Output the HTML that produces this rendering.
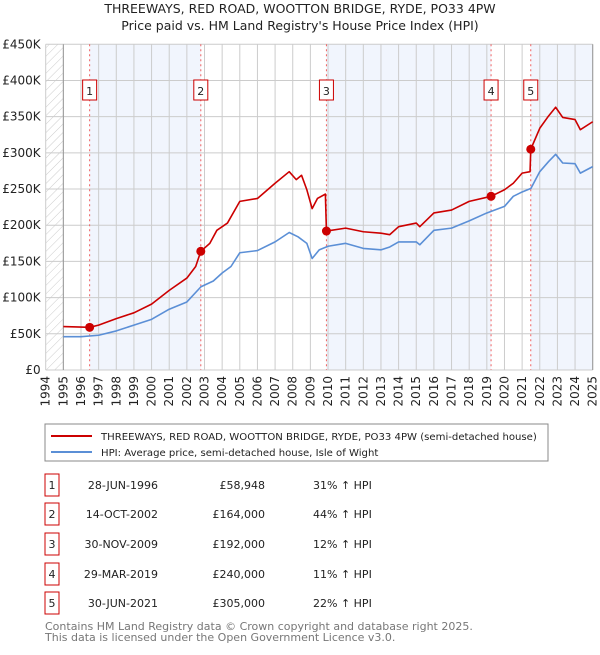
<!DOCTYPE html>
<html><head><meta charset="utf-8"><style>
body{margin:0;background:#fff;font-family:"Liberation Sans","DejaVu Sans",sans-serif;}
svg text{font-family:"DejaVu Sans","Liberation Sans",sans-serif;}
</style></head><body>
<svg id="c" width="600" height="650" xmlns="http://www.w3.org/2000/svg">
<defs><pattern id="h" width="6" height="6" patternUnits="userSpaceOnUse" patternTransform="rotate(45)"><line x1="0" y1="0" x2="0" y2="6" stroke="#ccc" stroke-width="1"/></pattern></defs>
<text x="300" y="13" text-anchor="middle" font-size="12.5" fill="#222">THREEWAYS, RED ROAD, WOOTTON BRIDGE, RYDE, PO33 4PW</text>
<text x="300" y="30" text-anchor="middle" font-size="12.5" fill="#222">Price paid vs. HM Land Registry's House Price Index (HPI)</text>
<g id="plot"></g>
<rect x="45" y="424" width="503" height="37" fill="#fff" stroke="#888"/>
<line x1="51" y1="436" x2="92" y2="436" stroke="#cc0000" stroke-width="2"/>
<text x="101" y="440" font-size="10.1" fill="#222">THREEWAYS, RED ROAD, WOOTTON BRIDGE, RYDE, PO33 4PW (semi-detached house)</text>
<line x1="51" y1="452" x2="92" y2="452" stroke="#5b8fd6" stroke-width="2"/>
<text x="101" y="456" font-size="10.1" fill="#222">HPI: Average price, semi-detached house, Isle of Wight</text>
<g id="table"></g>
<text x="45" y="630" font-size="11" fill="#777">Contains HM Land Registry data © Crown copyright and database right 2025.</text>
<text x="45" y="641" font-size="11" fill="#777">This data is licensed under the Open Government Licence v3.0.</text>
</svg>
<script>
const yTicks=[0,50,100,150,200,250,300,350,400,450];
const yTickLabels=["£0","£50K","£100K","£150K","£200K","£250K","£300K","£350K","£400K","£450K"];
const years=[1994,1995,1996,1997,1998,1999,2000,2001,2002,2003,2004,2005,2006,2007,2008,2009,2010,2011,2012,2013,2014,2015,2016,2017,2018,2019,2020,2021,2022,2023,2024,2025];
const hpiT=[1995,1996,1997,1998,1999,2000,2001,2002,2002.8,2003.5,2004,2004.5,2005,2006,2007,2007.8,2008.3,2008.8,2009.1,2009.5,2010,2011,2012,2013,2013.5,2014,2015,2015.2,2016,2017,2018,2019,2020,2020.5,2021,2021.5,2022,2022.5,2022.9,2023.3,2024,2024.3,2025];
const hpiV=[46,46,48,54,62,70,84,94,115,123,134,143,162,165,177,190,184,175,154,166,171,175,168,166,170,177,177,173,193,196,206,217,226,240,246,251,274,288,298,286,285,272,281];
const redT=[1995,1996.49,1997,1998,1999,2000,2001,2002,2002.5,2002.79,2003.3,2003.7,2004.3,2005,2006,2007,2007.8,2008.2,2008.5,2008.8,2009.1,2009.4,2009.85,2009.91,2011,2012,2013,2013.5,2014,2015,2015.2,2016,2017,2018,2019.24,2020,2020.5,2021,2021.45,2021.49,2022,2022.5,2022.9,2023.3,2024,2024.3,2025];
const redV=[60,59,62,71,79,91,110,127,143,164,175,193,203,233,237,258,274,263,269,249,223,237,243,192,196,191,189,187,198,203,198,217,221,233,240,249,258,272,274,305,334,351,363,349,346,332,343];
const saleT=[1996.49,2002.79,2009.91,2019.24,2021.49];
const saleV=[58.948,164,192,240,305];
const saleLabels=["1","2","3","4","5"];
const saleDates=["28-JUN-1996","14-OCT-2002","30-NOV-2009","29-MAR-2019","30-JUN-2021"];
const salePrices=["£58,948","£164,000","£192,000","£240,000","£305,000"];
const saleDiffs=["31% ↑ HPI","44% ↑ HPI","12% ↑ HPI","11% ↑ HPI","22% ↑ HPI"];

const NS="http://www.w3.org/2000/svg";
const X0=45.7,X1=592.7,Y0=370,Y1=44.3;
const xs=t=>X0+(t-1994)/(2025-1994)*(X1-X0);
const ys=v=>Y0-v/450*(Y0-Y1);
function mk(tag,attrs,parent){const e=document.createElementNS(NS,tag);for(const k in attrs)e.setAttribute(k,attrs[k]);parent.appendChild(e);return e;}
const g=document.getElementById('plot');
const bands=[[saleT[0],saleT[1]],[saleT[2],saleT[3]],[saleT[4],2025]];
bands.forEach(b=>{const r=mk('rect',{x:xs(b[0]),y:Y1,width:xs(b[1])-xs(b[0]),height:Y0-Y1,fill:'#eef3fc',opacity:0.8},g);

});
const hr=mk('rect',{x:X0,y:Y1,width:xs(1995)-X0,height:Y0-Y1,fill:'url(#h)'},g);


yTicks.forEach((v,i)=>{const l=mk('line',{x1:X0,x2:X1,y1:ys(v),y2:ys(v),stroke:'#ccc'},g);


const t=mk('text',{x:X0-5,y:ys(v)+4,'text-anchor':'end','font-size':12,fill:'#222'},g);t.textContent=yTickLabels[i];

});
years.forEach(yr=>{const l=mk('line',{x1:xs(yr),x2:xs(yr),y1:Y1,y2:Y0,stroke:'#ccc'},g);


const t=mk('text',{x:0,y:0,transform:`translate(${xs(yr)+4},${Y0+6}) rotate(-90)`,'text-anchor':'end','font-size':12,fill:'#222'},g);t.textContent=yr;

});
const ax=mk('line',{x1:xs(1995),x2:xs(1995),y1:Y1,y2:Y0,stroke:'#999'},g);


mk('line',{x1:X1,x2:X1,y1:Y1,y2:Y0,stroke:'#999'},g);
saleT.forEach((t,i)=>{const l=mk('line',{x1:xs(t),x2:xs(t),y1:Y1,y2:Y0,stroke:'#f06060','stroke-dasharray':'2,3'},g);


const r=mk('rect',{x:xs(t)-7,y:80,width:14,height:20,fill:'#fff',stroke:'#c00'},g);


const tx=mk('text',{x:xs(t),y:95,'text-anchor':'middle','font-size':11,fill:'#222'},g);tx.textContent=saleLabels[i];

});
function line(T,V,col,name){const p=mk('polyline',{points:T.map((t,i)=>xs(t)+','+ys(V[i])).join(' '),fill:'none',stroke:col,'stroke-width':1.6,'stroke-linejoin':'round'},g);

}
line(hpiT,hpiV,'#5b8fd6','hpi-line');
line(redT,redV,'#cc0000','property-price-line');
saleT.forEach((t,i)=>{const c=mk('circle',{cx:xs(t),cy:ys(saleV[i]),r:4.5,fill:'#cc0000'},g);

});
const tb=document.getElementById('table');
const rowY=[485,514,544,574,603];
saleLabels.forEach((s,i)=>{const y=rowY[i];
const r=mk('rect',{x:45,y:y-11,width:14,height:22,fill:'#fff',stroke:'#c00'},tb);


const cells=[[52,'middle',s],[158,'end',saleDates[i]],[265,'end',salePrices[i]],[313,'start',saleDiffs[i]]];
cells.forEach((c,j)=>{const t=mk('text',{x:c[0],y:y+4,'text-anchor':c[1],'font-size':11,fill:'#222'},tb);t.textContent=c[2];

});});
</script>
</body></html>
